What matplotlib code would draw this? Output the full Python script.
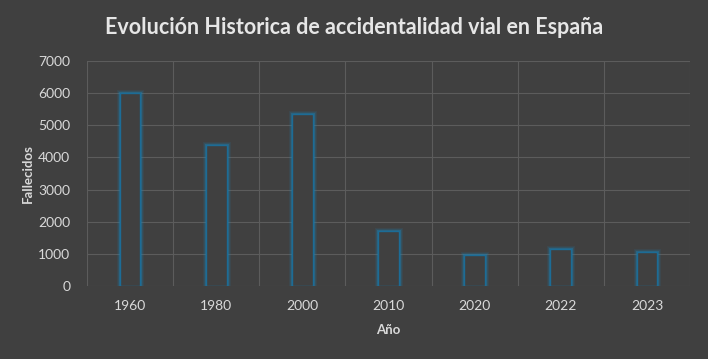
import matplotlib.pyplot as plt
import numpy as np

# Data
years = ['1960', '1980', '2000', '2010', '2020', '2022', '2023']
deaths = [6000, 4400, 5350, 1700, 950, 1150, 1050]

bg = '#404040'
txt = '#d9d9d9'
plt.rcParams['font.family'] = ['Lato', 'DejaVu Sans']

fig = plt.figure(figsize=(7.08, 3.59), dpi=100, facecolor=bg)
ax = fig.add_axes([87 / 708, 1 - 286 / 359, 603 / 708, 225 / 359], facecolor=bg)

x = np.arange(len(years))

# soft glow around the bar outlines
for lw, a in [(5, 0.12), (3.5, 0.2), (2.2, 0.38)]:
    ax.bar(x, deaths, width=0.24, facecolor='none', edgecolor='#1e80b2',
           linewidth=lw, alpha=a, zorder=3)
ax.bar(x, deaths, width=0.24, facecolor=bg, edgecolor='#1c6c96',
       linewidth=1.0, zorder=4)

ax.set_xlim(-0.5, len(years) - 0.5)
ax.set_ylim(0, 7000)
ax.set_yticks(range(0, 7001, 1000))
ax.set_xticks(x)
ax.set_xticklabels(years)

# vertical grid at category boundaries
ax.set_xticks(np.arange(-0.5, len(years), 1), minor=True)
ax.grid(True, which='minor', axis='x', color='#5c5c5c', linewidth=0.8)
ax.grid(True, which='major', axis='y', color='#5c5c5c', linewidth=0.8)
ax.set_axisbelow(True)

for s in ax.spines.values():
    s.set_visible(False)
ax.tick_params(which='both', length=0, colors=txt, labelsize=10)
ax.tick_params(axis='y', pad=12)
ax.tick_params(axis='x', pad=10)

ax.set_ylabel('Fallecidos', color=txt, fontsize=9.5, fontweight='bold', labelpad=3)
ax.set_xlabel('Año', color=txt, fontsize=9.5, fontweight='bold', labelpad=9)

fig.text(0.5, 1 - 27 / 359, 'Evolución Historica de accidentalidad vial en España',
         ha='center', va='center', color='#e6e6e6', fontsize=15.5, fontweight='bold')

plt.savefig('out.png', dpi=100, facecolor=bg)
